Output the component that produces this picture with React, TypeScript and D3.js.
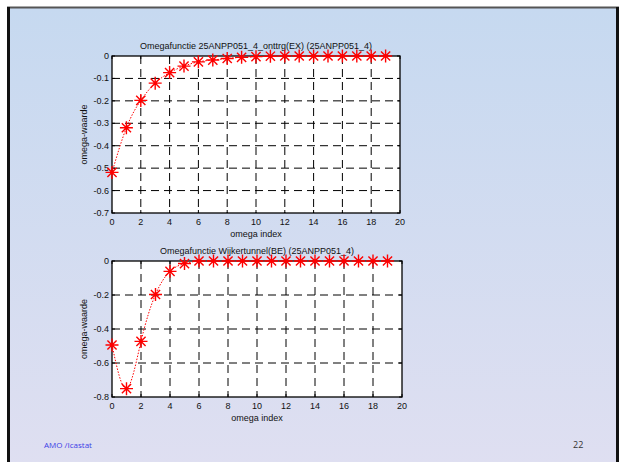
import React from "react";
import * as d3 from "d3";

// omega index (x) and the two omega functions
const omegaIndex = [0, 1, 2, 3, 4, 5, 6, 7, 8, 9, 10, 11, 12, 13, 14, 15, 16, 17, 18, 19];
const omegaEX = [
  -0.519, -0.32, -0.198, -0.121, -0.074, -0.045, -0.026, -0.018, -0.011, -0.006,
  -0.003, -0.001, 0, 0, 0, 0, 0, 0, 0, 0,
];
const omegaBE = [
  -0.494, -0.751, -0.473, -0.197, -0.061, -0.015, 0, 0, 0, 0,
  0, 0, 0, 0, 0, 0, 0, 0, 0, 0,
];
const xTicks = [0, 2, 4, 6, 8, 10, 12, 14, 16, 18, 20];
const yTicksEX = [0, -0.1, -0.2, -0.3, -0.4, -0.5, -0.6, -0.7];
const yTicksBE = [0, -0.2, -0.4, -0.6, -0.8];

const titleEX = "Omegafunctie 25ANPP051_4_onttrg(EX) (25ANPP051_4)";
const titleBE = "Omegafunctie Wijkertunnel(BE) (25ANPP051_4)";

const FONT = "'Liberation Sans', Arial, sans-serif";

type PanelProps = {
  values: number[];
  yTicks: number[];
  title: string;
  left: number;
  right: number;
  top: number;
  bottom: number;
};

function asterisk(r: number) {
  const d = r * Math.SQRT1_2;
  return `M${-r},0L${r},0M0,${-r}L0,${r}M${-d},${-d}L${d},${d}M${-d},${d}L${d},${-d}`;
}

function Panel({ values, yTicks, title, left, right, top, bottom }: PanelProps) {
  const x = d3.scaleLinear().domain([0, 20]).range([left, right]);
  const y = d3
    .scaleLinear()
    .domain([d3.min(yTicks) as number, 0])
    .range([bottom, top]);

  const lineGen = d3
    .line<number>()
    .x((d, i) => x(omegaIndex[i]))
    .y((d) => y(d))
    .curve(d3.curveNatural);

  const tk = 3;
  const innerX = xTicks.filter((t) => t > 0 && t < 20);
  const innerY = yTicks.filter((t) => t < 0 && t > (d3.min(yTicks) as number));

  return (
    <g>
      <rect x={left} y={top} width={right - left} height={bottom - top} fill="#fff" />
      {/* dashed grid */}
      <g stroke="#000" strokeWidth={1} strokeDasharray="8,5">
        {innerX.map((t) => (
          <line key={"gx" + t} x1={x(t)} x2={x(t)} y1={top} y2={bottom} />
        ))}
        {innerY.map((t) => (
          <line key={"gy" + t} x1={left} x2={right} y1={y(t)} y2={y(t)} />
        ))}
      </g>
      {/* inward ticks on all sides */}
      <g stroke="#000" strokeWidth={1}>
        {xTicks.map((t) => (
          <g key={"tx" + t}>
            <line x1={x(t)} x2={x(t)} y1={bottom} y2={bottom - tk} />
            <line x1={x(t)} x2={x(t)} y1={top} y2={top + tk} />
          </g>
        ))}
        {yTicks.map((t) => (
          <g key={"ty" + t}>
            <line x1={left} x2={left + tk} y1={y(t)} y2={y(t)} />
            <line x1={right} x2={right - tk} y1={y(t)} y2={y(t)} />
          </g>
        ))}
      </g>
      <rect
        x={left}
        y={top}
        width={right - left}
        height={bottom - top}
        fill="none"
        stroke="#000"
        strokeWidth={1.3}
      />
      {/* tick labels */}
      <g fontFamily={FONT} fontSize={9} fill="#111">
        {xTicks.map((t) => (
          <text key={"lx" + t} x={x(t)} y={bottom + 12} textAnchor="middle">
            {t}
          </text>
        ))}
        {yTicks.map((t) => (
          <text key={"ly" + t} x={left - 3} y={y(t) + 3} textAnchor="end">
            {t === 0 ? "0" : String(t)}
          </text>
        ))}
      </g>
      <text
        x={(left + right) / 2}
        y={top - 7}
        textAnchor="middle"
        fontFamily={FONT}
        fontSize={9}
        fill="#111"
      >
        {title}
      </text>
      <text
        x={(left + right) / 2}
        y={bottom + 24}
        textAnchor="middle"
        fontFamily={FONT}
        fontSize={9}
        fill="#111"
      >
        omega index
      </text>
      <text
        transform={`translate(${left - 25},${(top + bottom) / 2}) rotate(-90)`}
        textAnchor="middle"
        fontFamily={FONT}
        fontSize={9}
        fill="#111"
      >
        omega-waarde
      </text>
      {/* dotted spline + asterisk markers */}
      <path
        d={lineGen(values) || ""}
        fill="none"
        stroke="#ff0000"
        strokeWidth={1}
        strokeDasharray="1.5,1.5"
      />
      <g stroke="#ff0000" strokeWidth={1.4} fill="none">
        {values.map((v, i) => (
          <path
            key={"m" + i}
            d={asterisk(6.5)}
            transform={`translate(${x(omegaIndex[i])},${y(v)})`}
          />
        ))}
      </g>
    </g>
  );
}

export default function App() {
  return (
    <svg
      width={621}
      height={462}
      style={{ position: "absolute", left: 0, top: 0, display: "block" }}
    >
      <defs>
        <linearGradient id="slideBg" x1="0" y1="0" x2="0" y2="1">
          <stop offset="0" stopColor="#c6d9f0" />
          <stop offset="1" stopColor="#dfdff1" />
        </linearGradient>
      </defs>
      <rect width={621} height={462} fill="#ffffff" />
      <rect x={8} y={8} width={610} height={460} fill="url(#slideBg)" />
      <line x1={7} x2={619} y1={7.5} y2={7.5} stroke="#555" strokeWidth={2} />
      <line x1={8.5} x2={8.5} y1={7} y2={462} stroke="#111" strokeWidth={3} />
      <line x1={617.5} x2={617.5} y1={7} y2={462} stroke="#111" strokeWidth={3} />

      <Panel
        values={omegaEX}
        yTicks={yTicksEX}
        title={titleEX}
        left={112}
        right={400}
        top={56}
        bottom={213}
      />
      <Panel
        values={omegaBE}
        yTicks={yTicksBE}
        title={titleBE}
        left={112}
        right={402}
        top={261}
        bottom={397}
      />

      <text x={44} y={448} fontFamily="'Open Sans', 'Noto Sans', sans-serif" fontSize={8} fill="#3c3ce6">
        AMO /Icastat
      </text>
      <text x={573} y={448} fontFamily="'Open Sans', 'Noto Sans', sans-serif" fontSize={9} fill="#333">
        22
      </text>
    </svg>
  );
}
